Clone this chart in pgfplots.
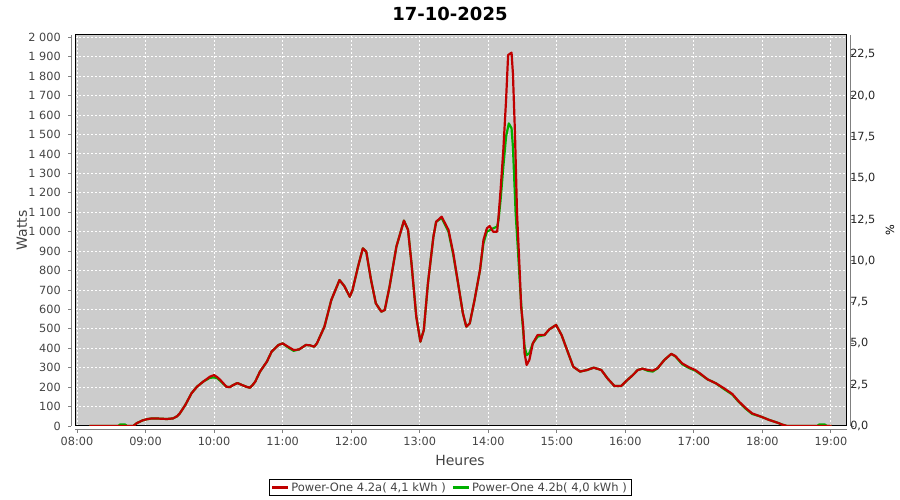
\documentclass[border=0pt]{standalone}
\usepackage{pgfplots}
\pgfplotsset{compat=1.18}
\usepackage{fontspec}
\setmainfont{DejaVu Sans}
\definecolor{bgc}{RGB}{204,204,204}
\definecolor{redl}{RGB}{192,0,0}
\definecolor{greenl}{RGB}{0,176,0}
\definecolor{txt}{RGB}{68,68,68}
\definecolor{axl}{RGB}{128,128,128}
\begin{document}
\begin{tikzpicture}[x=1pt,y=1pt]
\useasboundingbox (0,0) rectangle (900,500);
\begin{axis}[
  at={(75.3pt,74pt)}, anchor=south west,
  scale only axis, width=771.4pt, height=391pt,
  xmin=7.975, xmax=19.23, ymin=0, ymax=2012,
  axis background/.style={fill=bgc},
  axis line style={black, line width=1pt},
  grid=major,
  major grid style={white, dash pattern=on 2pt off 2pt, line width=0.9pt},
  tick align=outside, major tick length=3pt,
  xtick pos=bottom, ytick pos=left,
  every tick/.style={axl, line width=0.9pt},
  every x tick/.append style={yshift=-4pt},
  every y tick/.append style={xshift=-4pt},
  xtick={8,9,10,11,12,13,14,15,16,17,18,19},
  xticklabels={08:00,09:00,10:00,11:00,12:00,13:00,14:00,15:00,16:00,17:00,18:00,19:00},
  ytick={0,100,200,300,400,500,600,700,800,900,1000,1100,1200,1300,1400,1500,1600,1700,1800,1900,2000},
  yticklabels={0,100,200,300,400,500,600,700,800,900,1 000,1 100,1 200,1 300,1 400,1 500,1 600,1 700,1 800,1 900,2 000},
  tick label style={font=\fontsize{11.3}{13}\selectfont, text=txt},
  yticklabel style={xshift=-8pt},
  xticklabel style={yshift=-5pt},
  xlabel={Heures}, ylabel={Watts},
  every axis x label/.style={at={(axis description cs:0.4987,-0.087)}, anchor=center, font=\fontsize{14}{16}\selectfont, text=txt},
  every axis y label/.style={at={(axis description cs:-0.0691,0.5)}, anchor=center, rotate=90, font=\fontsize{14}{16}\selectfont, text=txt},
  title={\textbf{17-10-2025}},
  every axis title/.style={at={(axis description cs:0.4857,1.0537)}, anchor=center, font=\fontsize{18}{20}\selectfont},
  legend style={at={(axis description cs:0.4857,-0.1573)}, anchor=center,
    legend columns=2, draw=black, inner xsep=2pt, inner ysep=1pt,
    font=\fontsize{11.5}{13}\selectfont, text=txt,
    /tikz/every even column/.append style={column sep=4pt}},
  legend cell align=left,
  reverse legend,
]
\addplot[draw=greenl, line width=2.2pt, line join=round,
  legend image code/.code={\draw[draw=greenl, line width=2.2pt] (0pt,0pt) -- (16pt,0pt);}] coordinates {
(8.18,0) (8.60,0) (8.63,8) (8.70,8) (8.73,0) (8.82,0) (8.87,14) (8.95,28) (9.02,35) (9.09,39)
(9.20,38) (9.31,36) (9.40,39) (9.46,50) (9.50,65) (9.58,108) (9.67,168) (9.75,202) (9.84,228)
(9.94,248) (10.00,250) (10.05,245) (10.09,232) (10.18,202) (10.23,200) (10.28,211) (10.34,221)
(10.40,212) (10.47,202) (10.52,197) (10.56,210) (10.60,228) (10.67,280) (10.77,331) (10.84,383)
(10.94,417) (11.00,425) (11.08,404) (11.16,387) (11.24,394) (11.34,417) (11.40,415) (11.46,408)
(11.50,425) (11.61,511) (11.71,648) (11.83,751) (11.90,720) (11.98,665) (12.02,700) (12.10,820)
(12.17,914) (12.22,897) (12.29,751) (12.36,631) (12.44,588) (12.49,597) (12.56,717) (12.66,923)
(12.77,1057) (12.83,1009) (12.88,837) (12.95,563) (13.01,434) (13.06,494) (13.12,734) (13.20,974)
(13.24,1051) (13.32,1070) (13.42,1000) (13.49,880) (13.56,734) (13.63,580) (13.68,511) (13.73,528)
(13.80,648) (13.88,803) (13.93,940) (13.98,1000) (14.07,1017) (14.13,1026) (14.15,1060) (14.18,1163)
(14.22,1334) (14.26,1489) (14.30,1557) (14.34,1532) (14.36,1437) (14.38,1266) (14.40,1094)
(14.43,923) (14.47,683) (14.50,528) (14.53,408) (14.56,365) (14.60,374) (14.65,425) (14.72,460)
(14.82,468) (14.89,497) (14.99,520) (15.07,468) (15.15,391) (15.24,305) (15.34,280) (15.44,288)
(15.54,300) (15.65,288) (15.74,245) (15.84,206) (15.94,206) (16.03,237) (16.11,262) (16.18,288)
(16.25,295) (16.33,284) (16.40,280) (16.47,297) (16.57,340) (16.67,371) (16.73,358) (16.83,318)
(16.93,298) (17.02,285) (17.10,265) (17.20,240) (17.32,220) (17.44,190) (17.56,162) (17.66,122)
(17.76,88) (17.85,62) (17.98,48) (18.10,31) (18.22,17) (18.29,7) (18.36,0) (18.80,0) (18.83,8)
(18.91,8) (18.94,0) (19.01,0)
};
\addlegendentry{Power-One 4.2b( 4,0 kWh )}
\addplot[draw=redl, line width=2.2pt, line join=round,
  legend image code/.code={\draw[draw=redl, line width=2.2pt] (0pt,0pt) -- (16pt,0pt);}] coordinates {
(8.18,0) (8.82,0) (8.87,14) (8.95,28) (9.02,35) (9.09,39)
(9.20,38) (9.31,36) (9.40,39) (9.46,50) (9.50,65) (9.58,108) (9.67,168) (9.75,202) (9.84,228)
(9.94,254) (10.00,262) (10.05,250) (10.09,237) (10.18,202) (10.23,200) (10.28,211) (10.34,221)
(10.40,212) (10.47,202) (10.52,197) (10.56,210) (10.60,228) (10.67,280) (10.77,331) (10.84,383)
(10.94,417) (11.00,425) (11.08,408) (11.16,391) (11.24,394) (11.34,417) (11.40,415) (11.46,408)
(11.50,425) (11.61,511) (11.71,648) (11.83,751) (11.90,720) (11.98,665) (12.02,700) (12.10,820)
(12.17,914) (12.22,897) (12.29,751) (12.36,631) (12.44,588) (12.49,597) (12.56,717) (12.66,923)
(12.77,1057) (12.83,1009) (12.88,837) (12.95,563) (13.01,434) (13.06,494) (13.12,734) (13.20,974)
(13.24,1051) (13.32,1077) (13.42,1009) (13.49,889) (13.56,734) (13.63,580) (13.68,511) (13.73,528)
(13.80,648) (13.88,803) (13.93,957) (13.98,1017) (14.02,1029) (14.07,1000) (14.13,1000) (14.15,1077)
(14.18,1214) (14.22,1420) (14.26,1677) (14.29,1909) (14.34,1921) (14.36,1814) (14.39,1506)
(14.42,1094) (14.46,787) (14.48,614) (14.51,511) (14.53,375) (14.56,314) (14.60,340) (14.65,425)
(14.72,468) (14.82,468) (14.89,497) (14.99,520) (15.07,468) (15.15,391) (15.24,305) (15.34,280)
(15.44,288) (15.54,300) (15.65,288) (15.74,245) (15.84,206) (15.94,206) (16.03,237) (16.11,262)
(16.18,288) (16.25,295) (16.33,288) (16.40,285) (16.47,297) (16.57,340) (16.67,371) (16.73,360)
(16.83,322) (16.93,302) (17.02,288) (17.10,268) (17.20,240) (17.32,220) (17.44,194) (17.56,165)
(17.66,125) (17.76,91) (17.85,65) (17.98,48) (18.10,31) (18.22,17) (18.29,7) (18.36,0) (19.01,0)
};
\addlegendentry{Power-One 4.2a( 4,1 kWh )}
\end{axis}
\begin{axis}[
  at={(75.3pt,74pt)}, anchor=south west,
  scale only axis, width=771.4pt, height=391pt,
  xmin=7.975, xmax=19.23, ymin=0, ymax=23.668,
  axis y line*=right, hide x axis,
  axis line style={black, line width=1pt},
  tick align=outside, major tick length=3pt,
  every tick/.style={axl, line width=0.9pt},
  every y tick/.append style={xshift=4pt},
  ytick={0,2.5,5,7.5,10,12.5,15,17.5,20,22.5},
  yticklabels={{0,0},{2,5},{5,0},{7,5},{10,0},{12,5},{15,0},{17,5},{20,0},{22,5}},
  tick label style={font=\fontsize{11.3}{13}\selectfont, text=black!85},
  yticklabel style={xshift=-3pt},
  ylabel={\%},
  every axis y label/.style={at={(axis description cs:1.0561,0.5)}, anchor=center, rotate=90, font=\fontsize{11.3}{13}\selectfont},
]
\end{axis}
\draw[axl, line width=1pt] (71,74) -- (71,465);
\draw[axl, line width=1pt] (75.3,70) -- (846.7,70);
\draw[axl, line width=1pt] (850.5,74) -- (850.5,465);
\end{tikzpicture}
\end{document}
